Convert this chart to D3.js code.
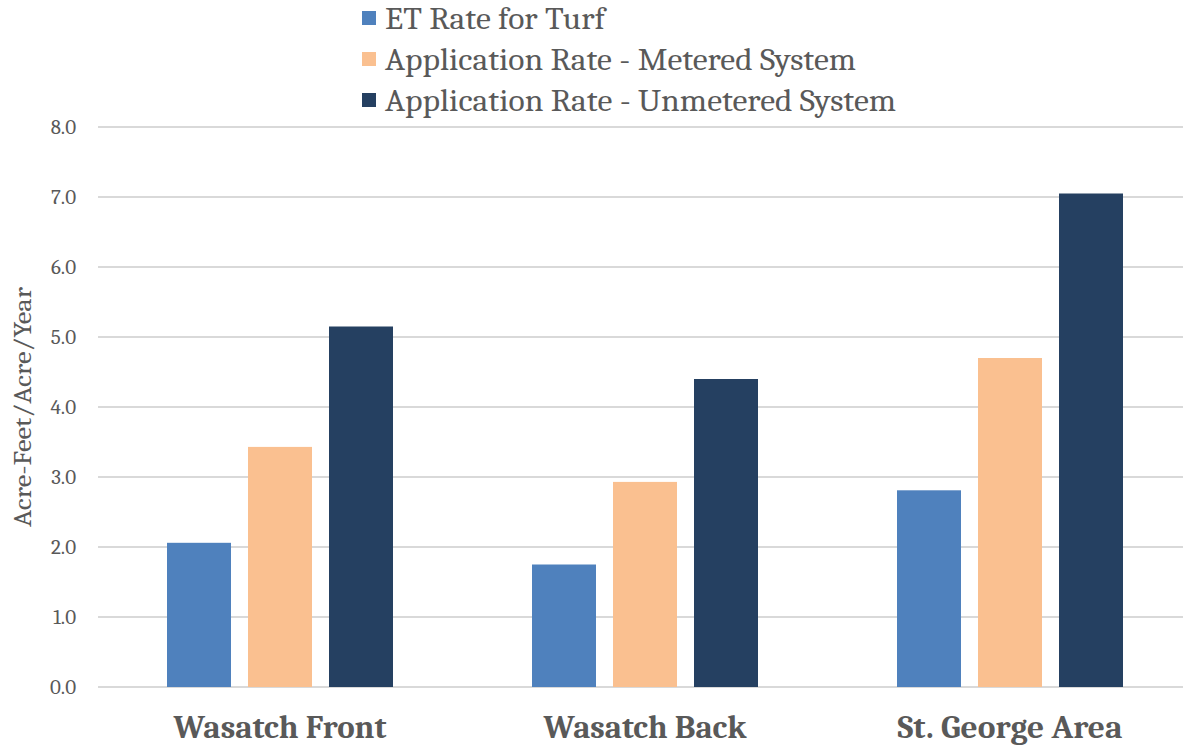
<!DOCTYPE html>
<html><head><meta charset="utf-8">
<script src="https://cdn.jsdelivr.net/npm/d3@7"></script>
<style>body{margin:0;background:#fff}svg{display:block}</style>
</head><body>
<svg id="c" width="1183" height="746"></svg>
<script>
const categories = ["Wasatch Front", "Wasatch Back", "St. George Area"];
const seriesNames = ["ET Rate for Turf", "Application Rate - Metered System", "Application Rate - Unmetered System"];
const etRate = [2.06, 1.75, 2.81];
const meteredRate = [3.43, 2.93, 4.70];
const unmeteredRate = [5.15, 4.40, 7.05];
const yTicks = [0, 1, 2, 3, 4, 5, 6, 7, 8];
const colors = ["#4f81bd", "#fac090", "#254061"];

(function () {
const series = [etRate, meteredRate, unmeteredRate];
const svg = d3.select("#c");
const font = "Cambria, 'Liberation Serif', 'DejaVu Serif', serif";
const mLeft = 97.5, mRight = 1192.5, mTop = 127, mBottom = 687;
const catWidths = [213, 203, 225];
const legWidths = [220, 471, 511];

const x = d3.scaleBand().domain(categories).range([mLeft, mRight]).paddingInner(0).paddingOuter(0);
const y = d3.scaleLinear().domain([0, 8]).range([mBottom, mTop]);
const inner = d3.scaleBand().domain(d3.range(3)).range([69.5, 295.5]).paddingInner(0.21);

svg.append("g").selectAll("line").data(yTicks).join("line")
  .attr("x1", 98).attr("x2", 1183)
  .attr("y1", d => y(d)).attr("y2", d => y(d))
  .attr("stroke", "#d9d9d9").attr("stroke-width", 2);

svg.append("g").selectAll("text").data(yTicks).join("text")
  .attr("x", 76).attr("y", d => y(d)).attr("dy", "0.35em")
  .attr("text-anchor", "end").attr("fill", "#595959")
  .style("font-family", font).style("font-size", "21px")
  .text(d => d.toFixed(1));

const g = svg.append("g");
series.forEach((vals, si) => {
  g.append("g").selectAll("rect").data(vals).join("rect")
    .attr("x", (d, i) => x(categories[i]) + inner(si))
    .attr("width", inner.bandwidth())
    .attr("y", d => y(d))
    .attr("height", d => y(0) - y(d))
    .attr("fill", colors[si]);
});

svg.append("g").selectAll("text").data(categories).join("text")
  .attr("x", d => x(d) + x.bandwidth() / 2).attr("y", 738)
  .attr("text-anchor", "middle").attr("fill", "#595959")
  .attr("textLength", (d, i) => catWidths[i]).attr("lengthAdjust", "spacingAndGlyphs")
  .style("font-family", font).style("font-size", "32px").style("font-weight", "bold")
  .text(d => d);

svg.append("text")
  .attr("transform", "translate(31,407) rotate(-90)")
  .attr("text-anchor", "middle").attr("fill", "#595959")
  .attr("textLength", 240).attr("lengthAdjust", "spacingAndGlyphs")
  .style("font-family", font).style("font-size", "25px")
  .text("Acre-Feet/Acre/Year");

const leg = svg.append("g");
const rowY = [18, 59, 100];
seriesNames.forEach((n, i) => {
  leg.append("rect").attr("x", 362).attr("y", rowY[i] - 7).attr("width", 14).attr("height", 14).attr("fill", colors[i]);
  leg.append("text").attr("x", 385).attr("y", rowY[i]).attr("dy", "0.35em")
    .attr("textLength", legWidths[i]).attr("lengthAdjust", "spacingAndGlyphs")
    .attr("fill", "#595959").style("font-family", font).style("font-size", "31px").text(n);
});
})();
</script>
</body></html>
